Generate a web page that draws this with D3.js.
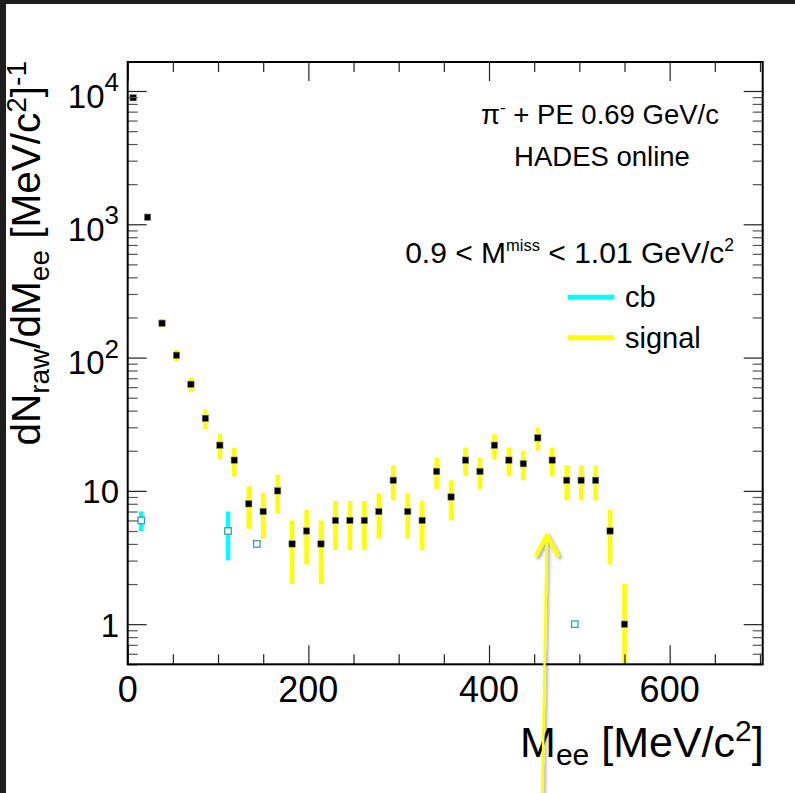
<!DOCTYPE html>
<html lang="en">
<head>
<meta charset="UTF-8">
<title>Mee spectrum - HADES online</title>
<script src="https://d3js.org/d3.v7.min.js"></script>
<style>
    body {
        margin: 0;
        background: #1e1e1e;
    }
    svg {
        display: block;
        font-family: 'Liberation Sans', Arial, Helvetica, sans-serif;
    }
</style>
</head>
<body>
<div id="chart"></div>
<script>
// bin centres [MeV/c2] and raw counts for the signal histogram
const massBins = [6, 22, 38, 54, 70, 86, 102, 118, 134, 150, 166, 182, 198, 214, 230, 246, 262, 278,
                  294, 310, 326, 342, 358, 374, 390, 406, 422, 438, 454, 470, 486, 502, 518, 534, 550];
const signalCounts = [8900, 1130, 181, 104, 63, 35, 22, 17, 8, 7, 10, 4, 5, 4, 6, 6, 6, 7,
                      12, 7, 6, 14, 9, 17, 14, 22, 17, 16, 25, 17, 12, 12, 12, 5, 1];
const signalErrors = [94.3, 33.6, 13.5, 10.2, 7.9, 5.9, 4.7, 4.1, 2.8, 2.6, 3.2, 2.0, 2.2, 2.0, 2.4, 2.4, 2.4, 2.6,
                      3.5, 2.6, 2.4, 3.7, 3.0, 4.1, 3.7, 4.7, 4.1, 4.0, 5.0, 4.1, 3.5, 3.5, 3.5, 2.2, 1.0];

// combinatorial background (cb)
const cbMass = [15, 111, 143, 495];
const cbCounts = [6, 5, 4, 1];
const cbErrors = [1, 2, 0, 0];

const xMajorTicks = [0, 200, 400, 600];
const xTickLabels = ["0", "200", "400", "600"];
const yMajorTicks = [1, 10, 100, 1000, 10000];
const yTickLabels = ["1", "10", "10^2", "10^3", "10^4"];

// arrow annotation (tip and tail in data units)
const arrowTip = [464, 4.65];
const arrowTail = [459, 0.054];

const W = 795, H = 793;
const plot = { left: 127.7, right: 762.7, top: 62, bottom: 664.3 };

const COLORS = {
    signal: "#ffff00",
    cb: "#00ffff",
    cbMarker: "#2aa6a6",
    frame: "#000"
};

const svg = d3.select("#chart").append("svg")
    .attr("width", W)
    .attr("height", H);

// dark window border + white canvas
svg.append("rect").attr("width", W).attr("height", H).attr("fill", "#1e1e1e");
svg.append("rect").attr("x", 6).attr("y", 4).attr("width", W - 6).attr("height", H - 4).attr("fill", "#fff");

const defs = svg.append("defs");
defs.append("clipPath").attr("id", "plot-clip")
    .append("rect")
    .attr("x", plot.left).attr("y", plot.top)
    .attr("width", plot.right - plot.left).attr("height", plot.bottom - plot.top);
defs.append("filter").attr("id", "shadow")
    .attr("x", "-50%").attr("y", "-10%").attr("width", "200%").attr("height", "120%")
    .append("feDropShadow")
    .attr("dx", 2).attr("dy", 2).attr("stdDeviation", 1.5)
    .attr("flood-color", "#000").attr("flood-opacity", 0.35);

const x = d3.scaleLinear().domain([0, 703]).range([plot.left, plot.right]);
const y = d3.scaleLog().domain([0.5, 16500]).range([plot.bottom, plot.top]);

const ymin = y.domain()[0];
const lowEdge = (v, e) => Math.max(v - e, ymin);

// ---- data ----
const g = svg.append("g").attr("clip-path", "url(#plot-clip)");

// signal error bars
g.selectAll(".sig-err")
    .data(massBins)
    .enter().append("line")
    .attr("class", "sig-err")
    .attr("x1", d => x(d)).attr("x2", d => x(d))
    .attr("y1", (d, i) => y(lowEdge(signalCounts[i], signalErrors[i])))
    .attr("y2", (d, i) => y(signalCounts[i] + signalErrors[i]))
    .attr("stroke", COLORS.signal)
    .attr("stroke-width", 4.5);

// cb error bars
g.selectAll(".cb-err")
    .data(cbMass.filter((d, i) => cbErrors[i] > 0))
    .enter().append("line")
    .attr("class", "cb-err")
    .attr("x1", d => x(d)).attr("x2", d => x(d))
    .attr("y1", d => { const i = cbMass.indexOf(d); return y(lowEdge(cbCounts[i], cbErrors[i])); })
    .attr("y2", d => { const i = cbMass.indexOf(d); return y(cbCounts[i] + cbErrors[i]); })
    .attr("stroke", COLORS.cb)
    .attr("stroke-width", 4.5);

// signal markers
const ms = 6.4;
g.selectAll(".sig-pt")
    .data(massBins)
    .enter().append("rect")
    .attr("class", "sig-pt")
    .attr("x", d => x(d) - ms / 2)
    .attr("y", (d, i) => y(signalCounts[i]) - ms / 2)
    .attr("width", ms).attr("height", ms)
    .attr("fill", "#000")
    .attr("stroke", "#888")
    .attr("stroke-width", 0.6);

// cb markers (open squares)
const cs = 6.5;
g.selectAll(".cb-pt")
    .data(cbMass)
    .enter().append("rect")
    .attr("class", "cb-pt")
    .attr("x", d => x(d) - cs / 2)
    .attr("y", (d, i) => y(cbCounts[i]) - cs / 2)
    .attr("width", cs).attr("height", cs)
    .attr("fill", "#fff")
    .attr("stroke", COLORS.cbMarker)
    .attr("stroke-width", 1.3);

// ---- axes / frame ----
const innerW = plot.right - plot.left;
const innerH = plot.bottom - plot.top;
const xMinor = d3.range(0, 701, 50).filter(v => !xMajorTicks.includes(v));
const yMinor = [];
[0.1, 1, 10, 100, 1000, 10000].forEach(dec => {
    for (let k = 2; k <= 9; k++) {
        const v = k * dec;
        if (v >= y.domain()[0] && v <= y.domain()[1]) yMinor.push(v);
    }
});

function tickAxis(axis, transform, values, size) {
    const a = svg.append("g")
        .attr("transform", transform)
        .call(axis.tickValues(values).tickSize(-size).tickFormat(""));
    a.select(".domain").remove();
    a.selectAll("line").attr("stroke", "#222").attr("stroke-width", 1.2);
    return a;
}

tickAxis(d3.axisBottom(x), `translate(0,${plot.bottom})`, xMajorTicks, 19);
tickAxis(d3.axisBottom(x), `translate(0,${plot.bottom})`, xMinor, 10);
tickAxis(d3.axisTop(x), `translate(0,${plot.top})`, xMajorTicks, 19);
tickAxis(d3.axisTop(x), `translate(0,${plot.top})`, xMinor, 10);
tickAxis(d3.axisLeft(y), `translate(${plot.left},0)`, yMajorTicks, 19);
tickAxis(d3.axisLeft(y), `translate(${plot.left},0)`, yMinor, 10).selectAll("line").attr("stroke", "#555");
tickAxis(d3.axisRight(y), `translate(${plot.right},0)`, yMajorTicks, 19);
tickAxis(d3.axisRight(y), `translate(${plot.right},0)`, yMinor, 10).selectAll("line").attr("stroke", "#555");

svg.append("rect")
    .attr("x", plot.left).attr("y", plot.top)
    .attr("width", innerW).attr("height", innerH)
    .attr("fill", "none")
    .attr("stroke", COLORS.frame)
    .attr("stroke-width", 2);

// x tick labels
svg.append("g").selectAll("text")
    .data(xMajorTicks)
    .enter().append("text")
    .attr("x", d => x(d))
    .attr("y", plot.bottom + 37.4)
    .attr("text-anchor", "middle")
    .attr("font-size", 36)
    .attr("fill", "#000")
    .text((d, i) => xTickLabels[i]);

// y tick labels, "10^n" rendered with superscript
yMajorTicks.forEach((v, i) => {
    const parts = yTickLabels[i].split("^");
    const t = svg.append("text")
        .attr("x", 119)
        .attr("y", y(v) + (parts.length > 1 ? 16.6 : 12.4))
        .attr("text-anchor", "end")
        .attr("font-size", 33)
        .attr("fill", "#000");
    t.append("tspan").text(parts[0]);
    if (parts.length > 1) {
        t.append("tspan").attr("font-size", 26).attr("dy", -16.6).text(parts[1]);
    }
});

// axis titles
function richText(sel, pieces) {
    pieces.forEach(p => {
        const ts = sel.append("tspan").text(p.t);
        if (p.size) ts.attr("font-size", p.size);
        if (p.dy) ts.attr("dy", p.dy);
    });
}

const xTitle = svg.append("text")
    .attr("x", plot.right + 1)
    .attr("y", 756.7)
    .attr("text-anchor", "end")
    .attr("font-size", 43)
    .attr("fill", "#000");
richText(xTitle, [
    { t: "M" },
    { t: "ee", size: 30, dy: 8 },
    { t: " [MeV/c", dy: -8 },
    { t: "2", size: 30, dy: -16 },
    { t: "]", dy: 16 }
]);

const yTitle = svg.append("text")
    .attr("transform", "translate(40,61) rotate(-90)")
    .attr("text-anchor", "end")
    .attr("font-size", 40.5)
    .attr("fill", "#000");
richText(yTitle, [
    { t: "dN" },
    { t: "raw", size: 28, dy: 9 },
    { t: "/dM", dy: -9 },
    { t: "ee", size: 28, dy: 9 },
    { t: " [MeV/c", dy: -9 },
    { t: "2", size: 28, dy: -14 },
    { t: "]", dy: 14 },
    { t: "-1", size: 28, dy: -14 }
]);

// ---- annotation texts ----
const t1 = svg.append("text")
    .attr("x", 600).attr("y", 124.3)
    .attr("text-anchor", "middle")
    .attr("font-size", 27.5);
richText(t1, [
    { t: "\u03c0" },
    { t: "-", size: 17, dy: -11 },
    { t: " + PE 0.69 GeV/c", dy: 11 }
]);

svg.append("text")
    .attr("x", 602).attr("y", 165.7)
    .attr("text-anchor", "middle")
    .attr("font-size", 27.5)
    .text("HADES online");

const t3 = svg.append("text")
    .attr("x", 734).attr("y", 262.7)
    .attr("text-anchor", "end")
    .attr("font-size", 30);
richText(t3, [
    { t: "0.9 < M" },
    { t: "miss", size: 16.5, dy: -12 },
    { t: " < 1.01 GeV/c", dy: 12 },
    { t: "2", size: 17.5, dy: -12 }
]);

// legend
const legendItems = [
    { label: "cb", color: COLORS.cb, y: 297.3 },
    { label: "signal", color: COLORS.signal, y: 337.7 }
];
const lg = svg.append("g").selectAll("g")
    .data(legendItems)
    .enter().append("g");
lg.append("line")
    .attr("x1", 567.7).attr("x2", 614.3)
    .attr("y1", d => d.y).attr("y2", d => d.y)
    .attr("stroke", d => d.color)
    .attr("stroke-width", 5);
lg.append("text")
    .attr("x", 625)
    .attr("y", d => d.y + 10)
    .attr("font-size", 29)
    .text(d => d.label);

// ---- arrow ----
const ax = x(arrowTip[0]), ay = y(arrowTip[1]);
const arrow = svg.append("g").attr("filter", "url(#shadow)")
    .attr("stroke", COLORS.signal)
    .attr("fill", "none")
    .attr("stroke-linecap", "round");
arrow.append("line")
    .attr("x1", x(arrowTail[0])).attr("y1", y(arrowTail[1]))
    .attr("x2", ax).attr("y2", ay)
    .attr("stroke-width", 2.5);
arrow.append("path")
    .attr("d", `M${ax - 10.6},${ay + 20} L${ax},${ay} L${ax + 11},${ay + 20}`)
    .attr("stroke-width", 4)
    .attr("stroke-linejoin", "round");
</script>
</body>
</html>
